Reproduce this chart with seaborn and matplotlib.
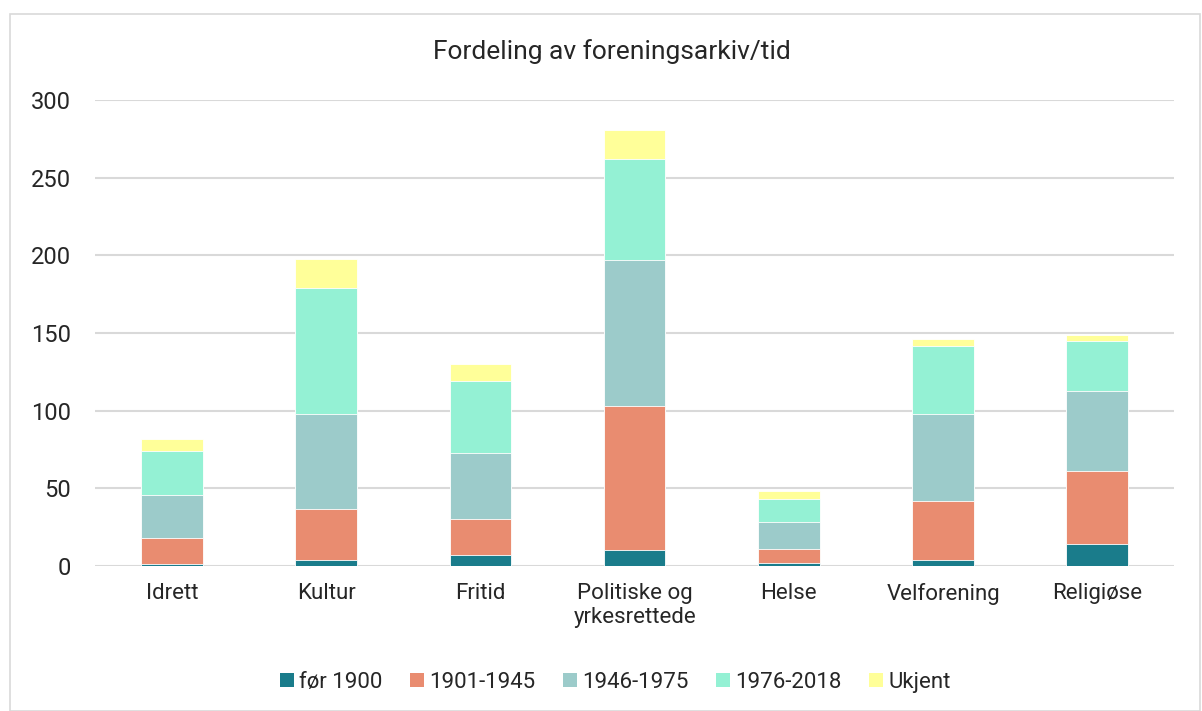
import pandas as pd
import numpy as np
import matplotlib.pyplot as plt
import seaborn as sns
from matplotlib.patches import Rectangle, Patch

kategorier = ['Idrett', 'Kultur', 'Fritid', 'Politiske og\nyrkesrettede', 'Helse', 'Velforening', 'Religiøse']
perioder = ['før 1900', '1901-1945', '1946-1975', '1976-2018', 'Ukjent']

for_1900 = [1, 4, 7, 10, 2, 4, 14]
p1901_1945 = [17, 33, 23, 93, 9, 38, 47]
p1946_1975 = [28, 61, 43, 94, 17, 56, 52]
p1976_2018 = [28, 81, 46, 65, 15, 44, 32]
ukjent = [8, 19, 11, 19, 5, 4, 4]

farger = ['#1A7C8B', '#E98C70', '#9CCBCA', '#94F1D4', '#FFFF99']

sns.set_style('white')
plt.rcParams['font.family'] = ['Roboto', 'DejaVu Sans']

serier = [for_1900, p1901_1945, p1946_1975, p1976_2018, ukjent]
kum = np.cumsum(np.array(serier), axis=0)

fig = plt.figure(figsize=(12.02, 7.11), dpi=100)
ax = fig.add_axes([0.079, 0.204, 0.898, 0.655])

# tegn kumulative summer ovenfra og ned, så hver bit blir synlig
for i in range(len(perioder) - 1, -1, -1):
    df = pd.DataFrame({'kategori': kategorier, 'verdi': kum[i]})
    sns.barplot(data=df, x='kategori', y='verdi', color=farger[i], width=0.4,
                saturation=1, edgecolor='white', linewidth=0.6, ax=ax, zorder=3)

ax.set_ylim(0, 300)
ax.set_yticks(range(0, 301, 50))
ax.yaxis.grid(True, color='#D9D9D9', linewidth=1.5, zorder=0)
ax.set_axisbelow(True)
for s in ax.spines.values():
    s.set_visible(False)
ax.set_xlabel('')
ax.set_ylabel('')
ax.tick_params(axis='y', length=0, pad=17, labelsize=17, labelcolor='#262626')
ax.tick_params(axis='x', length=0, pad=12, labelsize=16, labelcolor='#262626')

fig.text(0.509, 0.928, 'Fordeling av foreningsarkiv/tid', ha='center', va='center',
         fontsize=19, color='#262626')

handles = [Patch(facecolor=c, edgecolor='none') for c in farger]
fig.legend(handles, perioder, loc='center', bbox_to_anchor=(0.512, 0.04), ncol=5,
           frameon=False, fontsize=16, handlelength=0.6, handleheight=0.6,
           handletextpad=0.25, columnspacing=1.25, labelcolor='#262626')

fig.patches.append(Rectangle((10 / 1202, 0), 1190 / 1202, 1 - 14 / 711, transform=fig.transFigure,
                             fill=False, edgecolor='#D9D9D9', linewidth=1.2))

fig.savefig('out.png', dpi=100)
